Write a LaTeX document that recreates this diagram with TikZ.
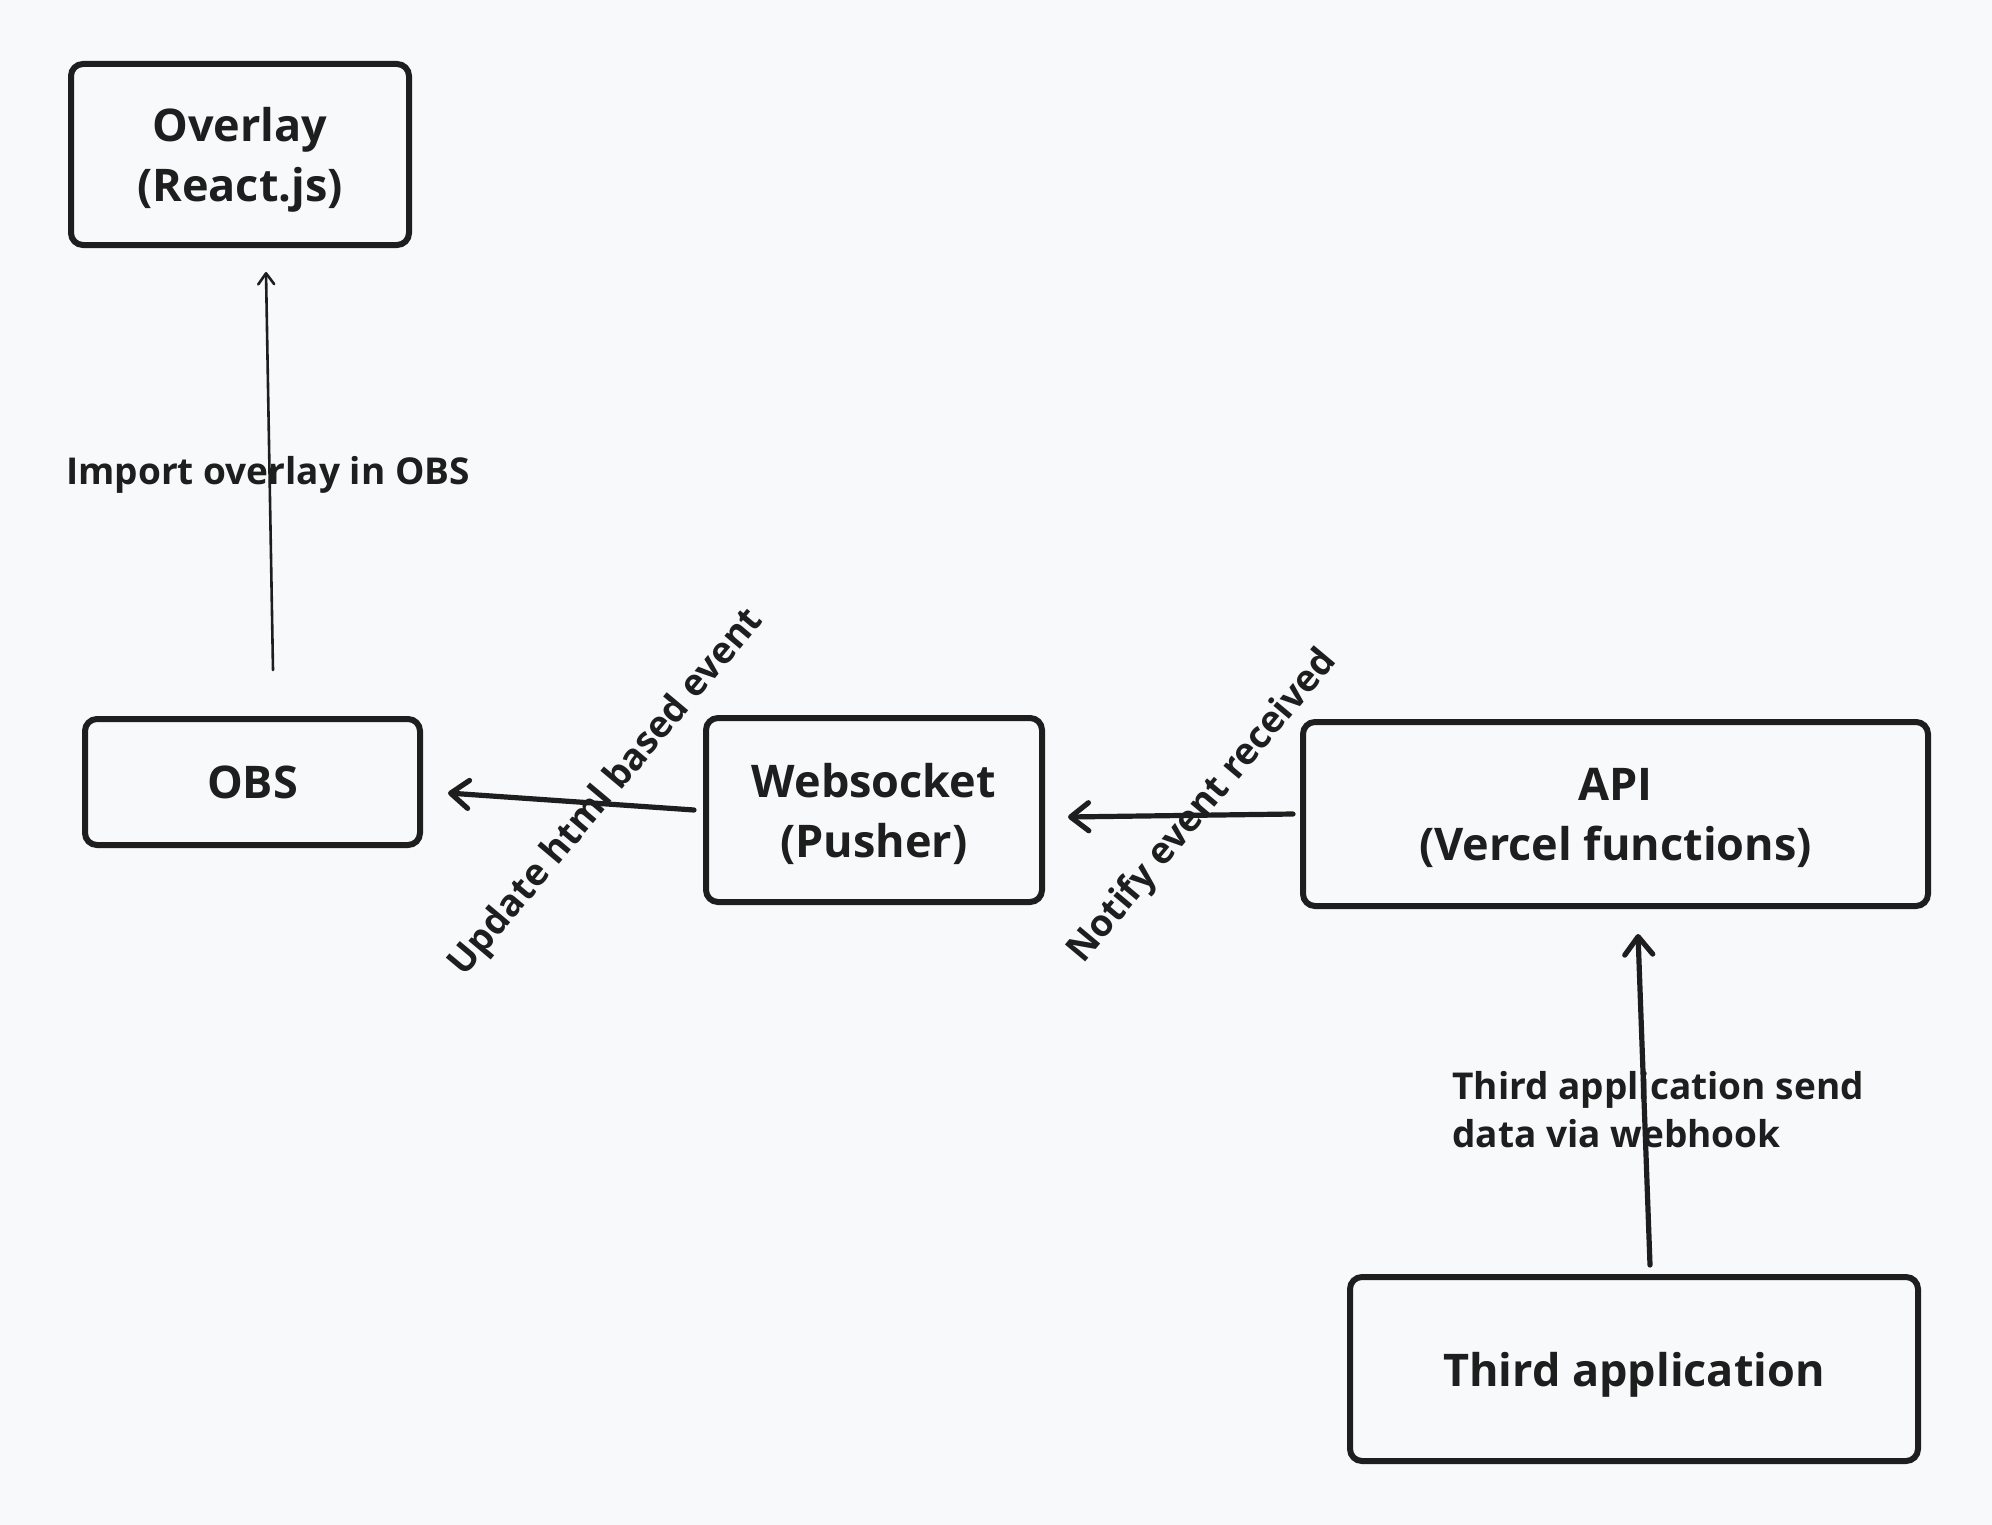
\documentclass[tikz,border=0pt]{standalone}
\usepackage{fontspec}
\setmainfont{Open Sans}
\usetikzlibrary{arrows.meta,calc}
\definecolor{bgcol}{HTML}{F8F9FA}
\definecolor{ink}{HTML}{1E1E1E}
\tikzset{
  boxnode/.style={draw=ink, line width=3pt, rounded corners=6pt, text=ink,
    align=center, inner sep=0pt, text depth=0pt, font=\fontsize{22.5}{30}\selectfont\bfseries},
  thickarrow/.style={draw=ink, line width=2.6pt, line cap=round,
    -{Straight Barb[length=9pt,width=14pt,line cap=round,line join=round]}},
  thinarrow/.style={draw=ink, line width=1.3pt, line cap=round,
    -{Straight Barb[length=5.5pt,width=8pt,line cap=round,line join=round]}},
  lbl/.style={text=ink, inner sep=0pt, font=\fontsize{18.5}{24}\selectfont\bfseries},
}
\begin{document}
\begin{tikzpicture}[x=0.5pt,y=-0.5pt]
\fill[bgcol] (0,0) rectangle (1992,1525);
\useasboundingbox (0,0) rectangle (1992,1525);

\node[boxnode, minimum width=169pt, minimum height=90.5pt] (overlay) at (240,154.5) {Overlay\\(React.js)};
\node[boxnode, minimum width=167.5pt, minimum height=63pt] (obs) at (252.5,782) {OBS};
\node[boxnode, minimum width=168pt, minimum height=92pt] (ws) at (874,810) {Websocket\\(Pusher)};
\node[boxnode, minimum width=312.5pt, minimum height=92pt] (api) at (1615.5,814) {API\\(Vercel functions)};
\node[boxnode, minimum width=284pt, minimum height=92pt] (third) at (1634,1369) {Third application};

\draw[thinarrow] ([xshift=10.25pt,yshift=23pt]obs.north) -- ([xshift=13pt,yshift=-12pt]overlay.south);
\draw[thickarrow] ([xshift=-4.5pt]ws.west) -- ([xshift=12.5pt,yshift=-5.5pt]obs.east);
\draw[thickarrow] ([xshift=-3.5pt]api.west) -- ([xshift=11.5pt,yshift=-3.5pt]ws.east);
\draw[thickarrow] ([xshift=8pt,yshift=4.5pt]third.north) -- ([xshift=11.25pt,yshift=-12.5pt]api.south);

\node[lbl] (l1) at (268,475) {Import overlay in OBS};
\node[lbl, rotate=50] (l2) at (607,793) {Update html based event};
\node[lbl, rotate=50] (l3) at (1203,807) {Notify event received};
\node[lbl, anchor=west, align=left] (l4) at (1452,1110) {Third application send\\data via webhook};
\end{tikzpicture}
\end{document}
